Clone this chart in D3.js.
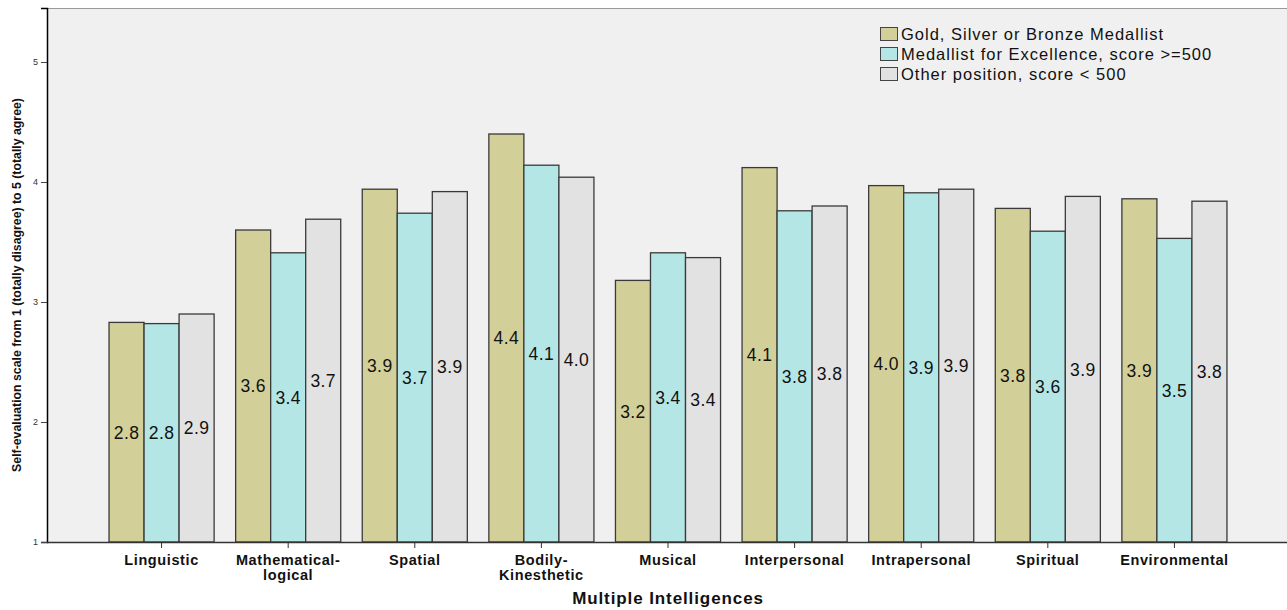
<!DOCTYPE html>
<html>
<head>
<meta charset="utf-8">
<script src="https://cdn.jsdelivr.net/npm/d3@7"></script>
<style>
  html, body { margin: 0; padding: 0; background: #ffffff; }
  svg { display: block; font-family: Arial, "Liberation Sans", sans-serif; }
</style>
</head>
<body>
<svg id="chart" width="1287" height="610"></svg>
<script>
const categories = ["Linguistic", "Mathematical-logical", "Spatial", "Bodily-Kinesthetic", "Musical",
  "Interpersonal", "Intrapersonal", "Spiritual", "Environmental"];
const categoryLines = [["Linguistic"], ["Mathematical-", "logical"], ["Spatial"], ["Bodily-", "Kinesthetic"],
  ["Musical"], ["Interpersonal"], ["Intrapersonal"], ["Spiritual"], ["Environmental"]];
const seriesNames = ["Gold, Silver or Bronze Medallist", "Medallist for Excellence, score >=500", "Other position, score < 500"];
const goldValues = [2.83, 3.60, 3.94, 4.40, 3.18, 4.12, 3.97, 3.78, 3.86];
const excellenceValues = [2.82, 3.41, 3.74, 4.14, 3.41, 3.76, 3.91, 3.59, 3.53];
const otherValues = [2.90, 3.69, 3.92, 4.04, 3.37, 3.80, 3.94, 3.88, 3.84];
const yTicks = [1, 2, 3, 4, 5];
const colors = ["#d3cf98", "#b4e6e6", "#e2e2e2"];

(function () {
const series = [goldValues, excellenceValues, otherValues];
const svg = d3.select("#chart");
const mLeft = 47, mRight = 1289, mTop = 8, mBottom = 542;

// plot background
svg.append("rect").attr("x", mLeft).attr("y", mTop).attr("width", 1287 - mLeft).attr("height", mBottom - mTop)
  .attr("fill", "#f0f0f0");
svg.append("line").attr("x1", mLeft).attr("x2", 1287).attr("y1", mTop + 0.5).attr("y2", mTop + 0.5)
  .attr("stroke", "#999").attr("stroke-width", 1);

const x = d3.scaleBand().domain(categories).range([mLeft, mRight]).paddingInner(0.17).paddingOuter(0.49);
const xs = d3.scaleBand().domain(d3.range(3)).range([0, x.bandwidth()]);
const y = d3.scaleLinear().domain([1, 1 + (mBottom - mTop) / 120]).range([mBottom, mTop]);

const groups = svg.append("g").selectAll("g").data(categories).join("g")
  .attr("transform", d => `translate(${x(d)},0)`);

groups.each(function(cat, ci) {
  const g = d3.select(this);
  series.forEach((vals, si) => {
    const v = vals[ci];
    g.append("rect")
      .attr("x", xs(si)).attr("y", y(v))
      .attr("width", xs.bandwidth()).attr("height", y(1) - y(v))
      .attr("fill", colors[si]).attr("stroke", "#3a3a3a").attr("stroke-width", 1.3);
    g.append("text")
      .attr("x", xs(si) + xs.bandwidth() / 2)
      .attr("y", (y(v) + y(1)) / 2)
      .attr("dy", "0.36em")
      .attr("text-anchor", "middle")
      .attr("font-size", 17.5).attr("letter-spacing", 0.4)
      .attr("fill", "#111")
      .text(v.toFixed(1));
  });
});

// y axis
const yAxis = d3.axisLeft(y).tickValues(yTicks).tickSize(6).tickFormat(d3.format("d"));
const ya = svg.append("g").attr("transform", `translate(${mLeft},0)`).call(yAxis);
ya.select(".domain").attr("stroke", "#000").attr("stroke-width", 1.5);
ya.selectAll(".tick line").attr("stroke", "#444");
ya.selectAll(".tick text").attr("font-size", 9).attr("fill", "#333");

// x axis
const xAxis = d3.axisBottom(x).tickSize(6).tickFormat("");
const xa = svg.append("g").attr("transform", `translate(0,${mBottom})`).call(xAxis);
xa.select(".domain").attr("d", `M${mLeft},0.5H1287`).attr("stroke", "#333").attr("stroke-width", 1.5);
xa.selectAll(".tick line").attr("stroke", "#333");

// x labels
categories.forEach((c, i) => {
  const t = svg.append("text")
    .attr("x", x(c) + x.bandwidth() / 2)
    .attr("y", 565)
    .attr("text-anchor", "middle")
    .attr("font-size", 14.5).attr("font-weight", "bold").attr("letter-spacing", 0.6)
    .attr("fill", "#111");
  categoryLines[i].forEach((ln, li) => {
    t.append("tspan").attr("x", x(c) + x.bandwidth() / 2).attr("dy", li === 0 ? 0 : 15).text(ln);
  });
});

// axis titles
svg.append("text").attr("x", (mLeft + mRight) / 2).attr("y", 604)
  .attr("text-anchor", "middle").attr("font-size", 17).attr("font-weight", "bold")
  .attr("letter-spacing", 0.9).attr("fill", "#111")
  .text("Multiple Intelligences");

svg.append("text")
  .attr("transform", `translate(21,${(mTop + mBottom) / 2 + 10}) rotate(-90)`)
  .attr("text-anchor", "middle").attr("font-size", 12.3).attr("font-weight", "bold")
  .attr("fill", "#111")
  .text("Self-evaluation scale from 1 (totally disagree) to 5 (totally agree)");

// legend
const legend = svg.append("g").attr("transform", "translate(880,27)");
seriesNames.forEach((name, i) => {
  const row = legend.append("g").attr("transform", `translate(0,${i * 20})`);
  row.append("rect").attr("x", 0.5).attr("y", 0.5).attr("width", 17).attr("height", 13)
    .attr("fill", colors[i]).attr("stroke", "#444").attr("stroke-width", 1);
  row.append("text").attr("x", 21).attr("y", 12.5)
    .attr("font-size", 16.5).attr("letter-spacing", 1.0).attr("fill", "#111")
    .text(name);
});
})();
</script>
</body>
</html>
